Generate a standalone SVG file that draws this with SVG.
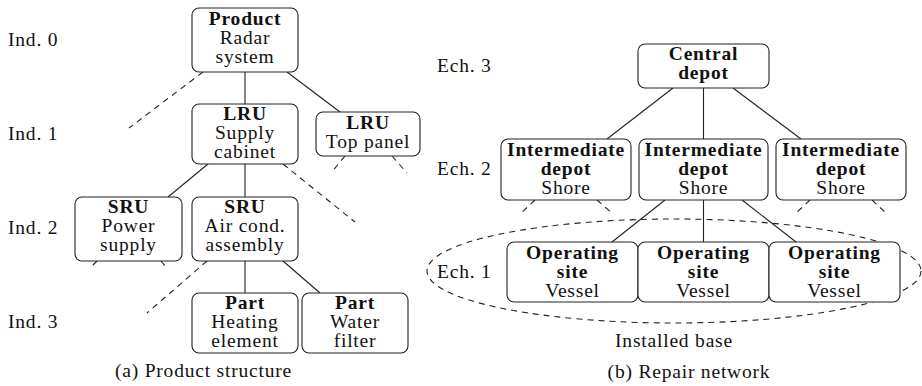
<svg xmlns="http://www.w3.org/2000/svg" width="922" height="386" viewBox="0 0 922 386">
<style>
  text { font-family: "Liberation Serif", "Times New Roman", serif; font-size: 19.5px; letter-spacing: 0.8px; fill: #111; text-anchor: middle; }
  .b { font-weight: bold; }
  .lab { text-anchor: start; }
  .box { fill: #fff; stroke: #222; stroke-width: 1.1; }
  .ln { stroke: #222; stroke-width: 1.1; fill: none; }
  .ds { stroke: #222; stroke-width: 1.1; fill: none; stroke-dasharray: 6 5; }
</style>
<rect width="922" height="386" fill="#fff"/>

<!-- level labels -->
<g id="levels">
  <text class="lab" x="8" y="46">Ind. 0</text>
  <text class="lab" x="8" y="140">Ind. 1</text>
  <text class="lab" x="8" y="234">Ind. 2</text>
  <text class="lab" x="8" y="328">Ind. 3</text>
  <text class="lab" x="437" y="72">Ech. 3</text>
  <text class="lab" x="437" y="175">Ech. 2</text>
  <text class="lab" x="437" y="278">Ech. 1</text>
</g>

<!-- connectors -->
<g id="connectors">
  <line class="ln" x1="245" y1="72" x2="245" y2="104"/>
  <line class="ln" x1="287" y1="72" x2="340" y2="112"/>
  <line class="ds" x1="203" y1="72" x2="129" y2="128"/>
  <line class="ln" x1="208" y1="164" x2="168" y2="197"/>
  <line class="ln" x1="245" y1="164" x2="245" y2="197"/>
  <line class="ds" x1="283" y1="164" x2="355" y2="222"/>
  <line class="ds" x1="345" y1="156" x2="331" y2="173"/>
  <line class="ds" x1="392" y1="156" x2="407" y2="173"/>
  <line class="ds" x1="97" y1="261" x2="91" y2="267"/>
  <line class="ds" x1="161" y1="261" x2="166" y2="267"/>
  <line class="ds" x1="207" y1="261" x2="147" y2="313"/>
  <line class="ln" x1="245" y1="261" x2="245" y2="293"/>
  <line class="ln" x1="283" y1="261" x2="320" y2="293"/>

  <line class="ln" x1="673" y1="88" x2="607" y2="139"/>
  <line class="ln" x1="703.5" y1="88" x2="703.5" y2="139"/>
  <line class="ln" x1="733" y1="88" x2="801" y2="139"/>
  <line class="ds" x1="535" y1="200" x2="520" y2="214"/>
  <line class="ds" x1="597" y1="200" x2="613" y2="214"/>
  <line class="ds" x1="810" y1="200" x2="795" y2="214"/>
  <line class="ds" x1="872" y1="200" x2="887" y2="214"/>
  <line class="ln" x1="665" y1="200" x2="612" y2="242"/>
  <line class="ln" x1="703.5" y1="200" x2="703.5" y2="242"/>
  <line class="ln" x1="742" y1="200" x2="796" y2="242"/>
  <ellipse class="ds" cx="674" cy="271" rx="247" ry="52"/>
</g>

<!-- product structure nodes -->
<g id="product">
  <rect class="box" x="192" y="8" width="106" height="64" rx="7"/>
  <text class="b" x="245" y="25">Product</text>
  <text x="245" y="44">Radar</text>
  <text x="245" y="63">system</text>
</g>
<g id="lru-supply">
  <rect class="box" x="192" y="104" width="106" height="60" rx="7"/>
  <text class="b" x="245" y="120">LRU</text>
  <text x="245" y="139">Supply</text>
  <text x="245" y="158">cabinet</text>
</g>
<g id="lru-top">
  <rect class="box" x="316" y="112" width="104" height="44" rx="7"/>
  <text class="b" x="368" y="129">LRU</text>
  <text x="368" y="148">Top panel</text>
</g>
<g id="sru-power">
  <rect class="box" x="75" y="197" width="107" height="64" rx="7"/>
  <text class="b" x="128.5" y="213">SRU</text>
  <text x="128.5" y="232">Power</text>
  <text x="128.5" y="251">supply</text>
</g>
<g id="sru-air">
  <rect class="box" x="192" y="197" width="106" height="64" rx="7"/>
  <text class="b" x="245" y="213">SRU</text>
  <text x="245" y="232">Air cond.</text>
  <text x="245" y="251">assembly</text>
</g>
<g id="part-heating">
  <rect class="box" x="192" y="293" width="106" height="60" rx="7"/>
  <text class="b" x="245" y="309">Part</text>
  <text x="245" y="328">Heating</text>
  <text x="245" y="347">element</text>
</g>
<g id="part-water">
  <rect class="box" x="302" y="293" width="106" height="60" rx="7"/>
  <text class="b" x="355" y="309">Part</text>
  <text x="355" y="328">Water</text>
  <text x="355" y="347">filter</text>
</g>

<!-- repair network nodes -->
<g id="central">
  <rect class="box" x="638" y="44" width="131" height="44" rx="7"/>
  <text class="b" x="703.5" y="60">Central</text>
  <text class="b" x="703.5" y="79">depot</text>
</g>
<g id="inter-1">
  <rect class="box" x="501" y="139" width="130" height="61" rx="7"/>
  <text class="b" x="566" y="156">Intermediate</text>
  <text class="b" x="566" y="175">depot</text>
  <text x="566" y="194">Shore</text>
</g>
<g id="inter-2">
  <rect class="box" x="639" y="139" width="129" height="61" rx="7"/>
  <text class="b" x="703.5" y="156">Intermediate</text>
  <text class="b" x="703.5" y="175">depot</text>
  <text x="703.5" y="194">Shore</text>
</g>
<g id="inter-3">
  <rect class="box" x="776" y="139" width="130" height="61" rx="7"/>
  <text class="b" x="841" y="156">Intermediate</text>
  <text class="b" x="841" y="175">depot</text>
  <text x="841" y="194">Shore</text>
</g>
<g id="site-1">
  <rect class="box" x="507" y="242" width="131" height="60" rx="7"/>
  <text class="b" x="572.5" y="259">Operating</text>
  <text class="b" x="572.5" y="278">site</text>
  <text x="572.5" y="297">Vessel</text>
</g>
<g id="site-2">
  <rect class="box" x="638" y="242" width="131" height="60" rx="7"/>
  <text class="b" x="703.5" y="259">Operating</text>
  <text class="b" x="703.5" y="278">site</text>
  <text x="703.5" y="297">Vessel</text>
</g>
<g id="site-3">
  <rect class="box" x="769" y="242" width="131" height="60" rx="7"/>
  <text class="b" x="834.5" y="259">Operating</text>
  <text class="b" x="834.5" y="278">site</text>
  <text x="834.5" y="297">Vessel</text>
</g>

<!-- captions -->
<g id="captions">
  <text x="674" y="347">Installed base</text>
  <text x="203.5" y="377">(a) Product structure</text>
  <text x="689" y="378">(b) Repair network</text>
</g>
</svg>
